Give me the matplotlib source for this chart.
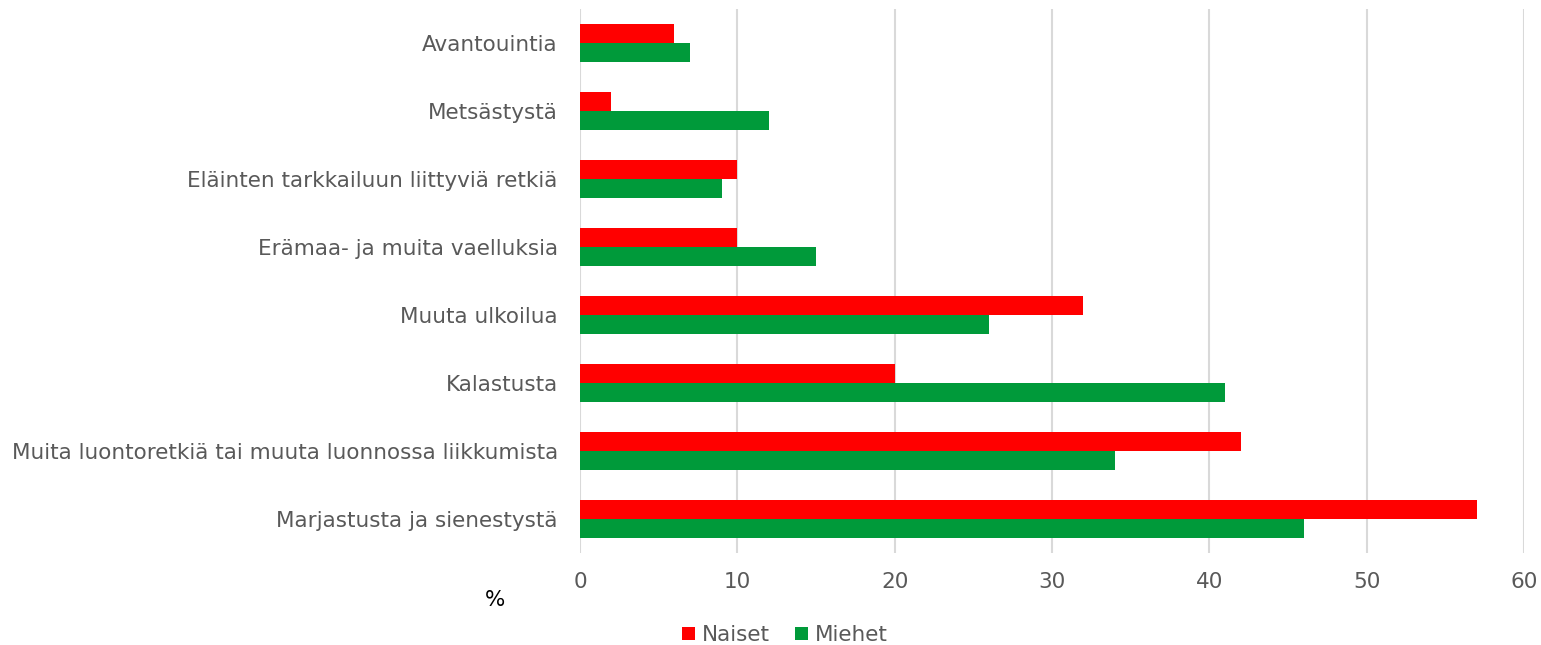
import numpy as np
import matplotlib.pyplot as plt

categories = ['Marjastusta ja sienestystä',
              'Muita luontoretkiä tai muuta luonnossa liikkumista',
              'Kalastusta',
              'Muuta ulkoilua',
              'Erämaa- ja muita vaelluksia',
              'Eläinten tarkkailuun liittyviä retkiä',
              'Metsästystä',
              'Avantouintia']
naiset = [57, 42, 20, 32, 10, 10, 2, 6]
miehet = [46, 34, 41, 26, 15, 9, 12, 7]
xticks = [0, 10, 20, 30, 40, 50, 60]

grey = '#595959'
fs = 15.5
W, H = 1541, 645
fig = plt.figure(figsize=(W / 100, H / 100), dpi=100)
ax = fig.add_axes([580 / W, 1 - 553 / H, (1524 - 580) / W, (553 - 9) / H])

y = np.arange(len(categories))
h = 0.28
ax.barh(y + h / 2, naiset, height=h, color='#ff0000', label='Naiset', zorder=3)
ax.barh(y - h / 2, miehet, height=h, color='#009a3a', label='Miehet', zorder=3)

ax.set_xlim(0, 60)
ax.set_ylim(-0.5, len(categories) - 0.5)
ax.set_xticks(xticks)
ax.set_yticks(y)
ax.set_yticklabels(categories)
ax.xaxis.grid(True, color='#d9d9d9', linewidth=1.5, zorder=0)
for s in ax.spines.values():
    s.set_visible(False)
ax.tick_params(length=0, labelsize=fs, colors=grey)
ax.tick_params(axis='x', pad=14)
ax.tick_params(axis='y', pad=16)

fig.text(495 / W, 1 - 600 / H, '%', fontsize=fs, color='black', ha='center', va='center')
fig.legend(loc='center', bbox_to_anchor=(785 / W, 1 - 635 / H), ncol=2, frameon=False,
           fontsize=fs, labelcolor=grey, handlelength=0.6, handleheight=0.6,
           handletextpad=0.3, columnspacing=1.2)

fig.savefig('out.png', dpi=100)
